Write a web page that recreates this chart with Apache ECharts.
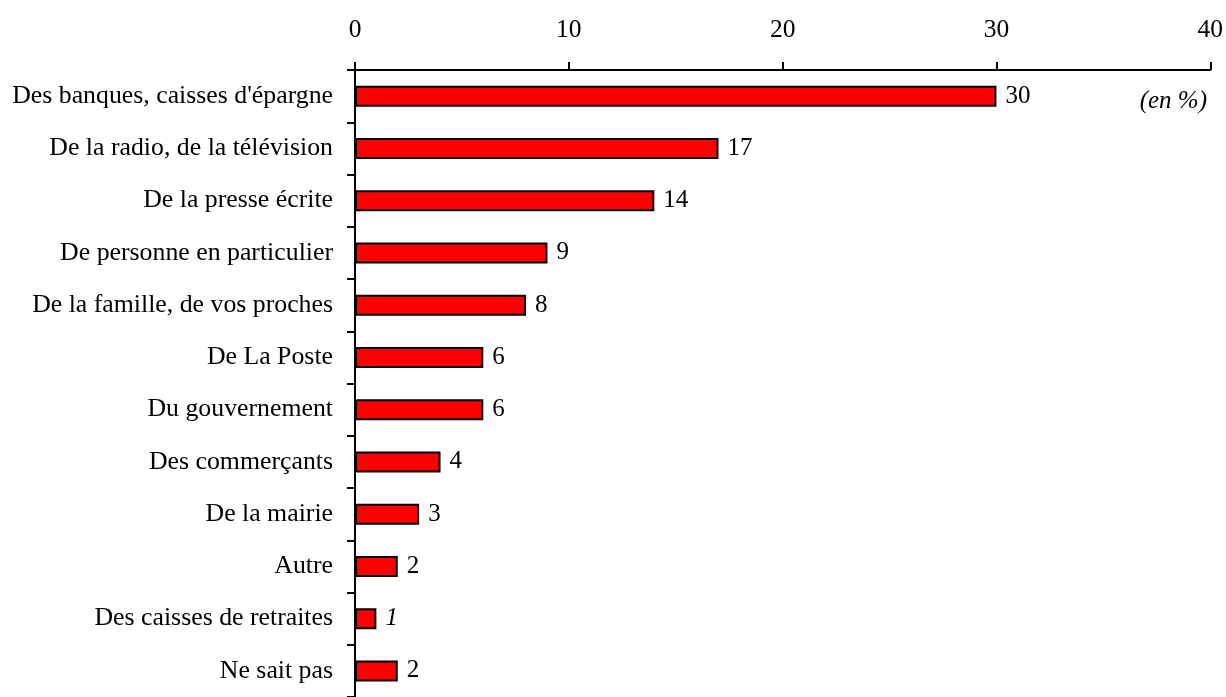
<!DOCTYPE html>
<html><head><meta charset="utf-8">
<script src="https://cdn.jsdelivr.net/npm/echarts@6/dist/echarts.min.js"></script>
<style>html,body{margin:0;padding:0;background:#fff}#c{width:1226px;height:697px}</style>
</head><body><div id="c"></div>
<script>
const categories = ["Des banques, caisses d'épargne","De la radio, de la télévision","De la presse écrite","De personne en particulier","De la famille, de vos proches","De La Poste","Du gouvernement","Des commerçants","De la mairie","Autre","Des caisses de retraites","Ne sait pas"];
const values = [30,17,14,9,8,6,6,4,3,2,1,2];
const italicLabel = [false,false,false,false,false,false,false,false,false,false,true,false];
const xTicks = [0,10,20,30,40];
const unitNote = "(en %)";

const F = "'Liberation Serif','Times New Roman',serif";
const chart = echarts.init(document.getElementById('c'));
chart.setOption({
  animation:false,
  grid:{left:355,right:15,top:70,height:635},
  xAxis:{type:'value',position:'top',min:xTicks[0],max:xTicks[xTicks.length-1],interval:10,
    axisLine:{show:true,lineStyle:{color:'#000',width:2}},
    axisTick:{show:true,length:8,lineStyle:{color:'#000',width:2}},
    axisLabel:{color:'#000',fontFamily:F,fontSize:25.5,margin:27},
    splitLine:{show:false}},
  yAxis:{type:'category',inverse:true,data:categories,
    axisLine:{show:true,lineStyle:{color:'#000',width:2}},
    axisTick:{show:true,length:8,alignWithLabel:false,lineStyle:{color:'#000',width:2}},
    axisLabel:{color:'#000',fontFamily:F,fontSize:25.8,margin:22}},
  graphic:[{type:'text',right:19,top:89,style:{text:unitNote,font:"italic 25px 'Liberation Serif'",fill:'#000'}}],
  series:[{type:'bar',barWidth:21,
    data:values.map((v,i)=>({value:v,label:{fontStyle:italicLabel[i]?'italic':'normal'}})),
    itemStyle:{color:'#ff0000',borderColor:'#000',borderWidth:2},
    label:{show:true,position:'right',distance:9,color:'#000',fontFamily:F,fontSize:25}}]
});
</script></body></html>
